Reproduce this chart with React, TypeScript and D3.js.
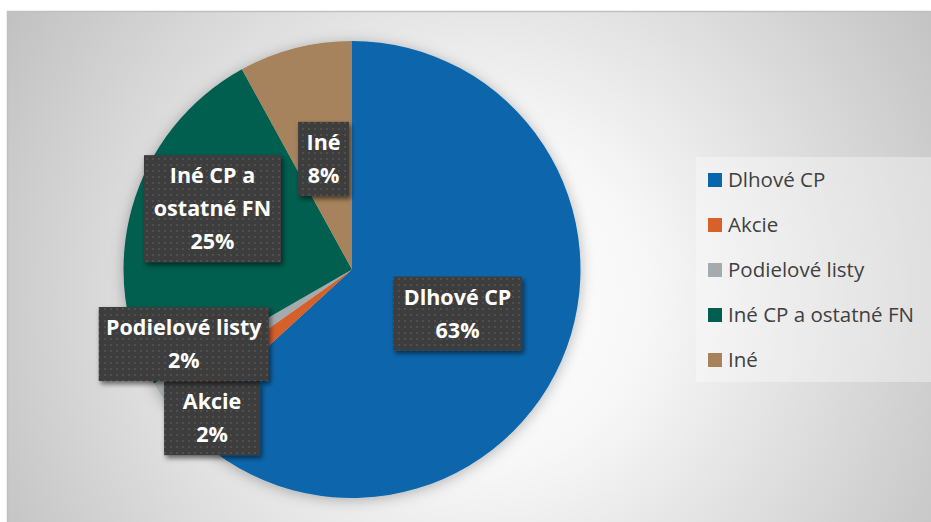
import React from "react";
import * as d3 from "d3";

const categories = ["Dlhové CP", "Akcie", "Podielové listy", "Iné CP a ostatné FN", "Iné"];
const values = [63.2, 2.0, 1.5, 25.3, 8.0];
const colors = ["#0866ac", "#d6612a", "#a4aaad", "#025e50", "#a6835b"];
const labelLines = [["Dlhové CP"], ["Akcie"], ["Podielové listy"], ["Iné CP a", "ostatné FN"], ["Iné"]];

// layout (not data)
const W = 931, H = 522;
const CX = 352, CY = 269.5, R = 228.5;
const labelNudge: [number, number][] = [[1, -2], [-51, 77], [-72, 13], [-29.5, -30], [0, 0]];
const labelBoxW = [129, 96, 170, 137, 51];
const LINE_H = 33;

export default function App() {
  const pie = d3.pie<number>().value((d) => d).sort(null);
  const arcs = pie(values);
  const arc = d3.arc<d3.PieArcDatum<number>>().innerRadius(0).outerRadius(R);
  const total = d3.sum(values);

  const legendX = 696, legendY = 157, legendW = 240, legendH = 225;
  const legendScale = d3.scalePoint<string>().domain(categories).range([legendY + 23, legendY + 203]);

  return (
    <svg width={W} height={H} style={{ position: "absolute", left: 0, top: 0 }} fontFamily="'Open Sans', sans-serif">
      <defs>
        <radialGradient id="bg" cx="480" cy="300" r="560" gradientUnits="userSpaceOnUse">
          <stop offset="0" stopColor="#ffffff" />
          <stop offset="0.3" stopColor="#f7f7f7" />
          <stop offset="1" stopColor="#c0c0c0" />
        </radialGradient>
        <filter id="pieShadow" x="-20%" y="-20%" width="140%" height="140%">
          <feDropShadow dx="0" dy="2" stdDeviation="7" floodColor="#000" floodOpacity="0.28" />
        </filter>
        <filter id="boxShadow" x="-20%" y="-20%" width="150%" height="150%">
          <feDropShadow dx="2" dy="3" stdDeviation="2.5" floodColor="#000" floodOpacity="0.55" />
        </filter>
        <pattern id="dots" width="6" height="6" patternUnits="userSpaceOnUse">
          <rect width="6" height="6" fill="#3d3d3d" />
          <rect x="2" y="2" width="2" height="2" fill="#4f4f4f" />
        </pattern>
      </defs>
      <rect x={0} y={0} width={W} height={H} fill="#fff" />
      <rect x={7.5} y={11.5} width={W} height={H} fill="url(#bg)" stroke="#c0c0c0" strokeWidth={1.5} />

      <g transform={`translate(${CX},${CY})`} filter="url(#pieShadow)">
        {arcs.map((a, i) => (
          <path key={i} d={arc(a) || ""} fill={colors[i]} />
        ))}
      </g>

      {arcs.map((a, i) => {
        const [cx, cy] = arc.centroid(a);
        const x = CX + cx + labelNudge[i][0];
        const y = CY + cy + labelNudge[i][1];
        const lines = [...labelLines[i], `${Math.round((values[i] / total) * 100)}%`];
        const h = lines.length * LINE_H + 8;
        const w = labelBoxW[i];
        return (
          <g key={i}>
            <rect x={x - w / 2} y={y - h / 2} width={w} height={h} fill="url(#dots)" filter="url(#boxShadow)" />
            {lines.map((t, j) => (
              <text
                key={j}
                x={x}
                y={y - h / 2 + 4 + LINE_H * j + LINE_H / 2}
                dy="0.36em"
                textAnchor="middle"
                fill="#fff"
                fontWeight="bold"
                fontSize={21.5}
              >
                {t}
              </text>
            ))}
          </g>
        );
      })}

      <rect x={legendX} y={legendY} width={legendW} height={legendH} fill="#fff" fillOpacity={0.35} />
      {categories.map((c, i) => {
        const y = legendScale(c) as number;
        return (
          <g key={c}>
            <rect x={708} y={y - 7} width={14} height={14} fill={colors[i]} />
            <text x={728} y={y} dy="0.36em" fontSize={20.5} fill="#404040">
              {c}
            </text>
          </g>
        );
      })}
    </svg>
  );
}
